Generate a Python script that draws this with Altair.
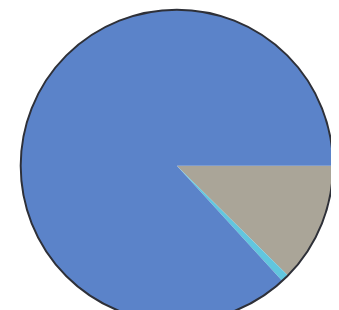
import altair as alt
import pandas as pd
import math

categories = ["Gray", "Cyan", "Blue"]
values = [12.4, 0.8, 86.8]
colors = ["#aaa598", "#62c6de", "#5b83c9"]

df = pd.DataFrame({"category": categories, "value": values, "order": [0, 1, 2]})
total = pd.DataFrame({"value": [sum(values)]})

theta_scale = alt.Scale(range=[math.pi / 2, math.pi / 2 + 2 * math.pi])

slices = alt.Chart(df).mark_arc(radius=160, strokeWidth=0).encode(
    theta=alt.Theta("value:Q", stack=True, scale=theta_scale),
    order=alt.Order("order:Q"),
    color=alt.Color("category:N", scale=alt.Scale(domain=categories, range=colors), legend=None),
    x=alt.value(173),
    y=alt.value(158),
)

outline = alt.Chart(total).mark_arc(radius=160, fillOpacity=0, stroke="#2e3038", strokeWidth=2).encode(
    theta=alt.Theta("value:Q"),
    x=alt.value(173),
    y=alt.value(158),
)

chart = alt.layer(slices, outline).properties(
    width=331, height=302, padding=0, autosize="none"
).configure_view(stroke=None)

chart.save("out.html", embed_options={"renderer": "svg", "actions": False})
